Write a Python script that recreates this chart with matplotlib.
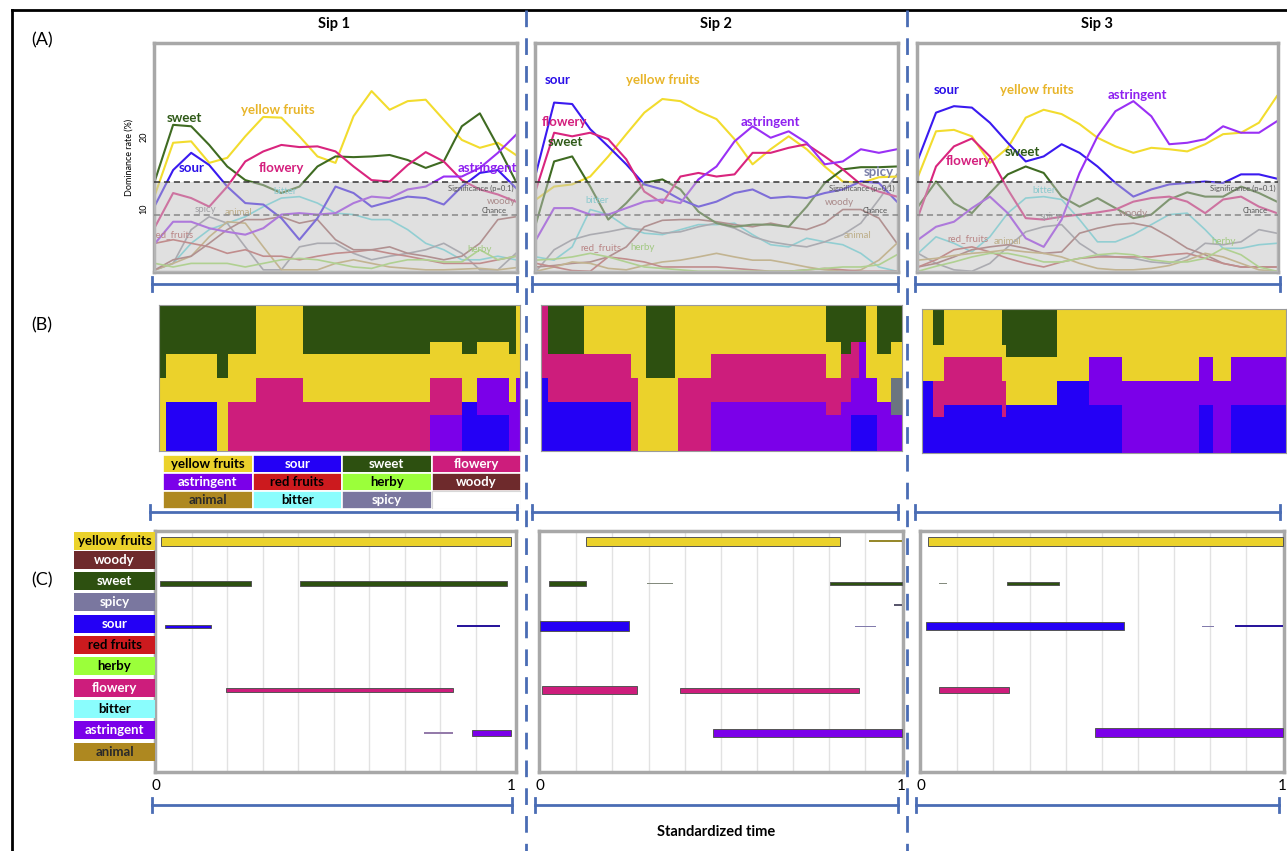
import matplotlib.pyplot as plt
from matplotlib.patches import Rectangle
from matplotlib.colors import to_rgb

plt.rcParams['font.family'] = ['Lato', 'DejaVu Sans']

W, H = 1287, 851

# ---------------- data ----------------
time_grid = [0.0, 0.05, 0.10, 0.15, 0.20, 0.25, 0.30, 0.35, 0.40, 0.45, 0.50,
             0.55, 0.60, 0.65, 0.70, 0.75, 0.80, 0.85, 0.90, 0.95, 1.0]

significance = 13.7
chance = 9.1

main_attrs = ["yellow fruits", "sweet", "sour", "flowery", "astringent"]

sip1_curves = {
    "bitter": [1.5, 2.4, 5.2, 7.1, 8.0, 8.9, 10.3, 11.5, 11.7, 10.8, 9.4, 9.2, 8.5, 8.5, 7.1, 5.2, 4.3, 2.9, 2.9, 3.4, 2.9],
    "spicy": [1.5, 2.4, 7.1, 8.9, 8.0, 4.7, 1.5, 1.5, 4.7, 5.2, 5.2, 3.8, 2.9, 3.4, 3.8, 4.3, 5.2, 3.8, 1.5, 1.5, 3.8],
    "animal": [1.5, 2.4, 3.4, 6.1, 8.2, 8.0, 4.7, 1.5, 1.5, 1.5, 2.4, 2.9, 2.4, 1.9, 1.7, 1.5, 1.5, 1.6, 1.7, 1.5, 1.8],
    "red fruits": [5.2, 5.7, 5.2, 4.7, 3.8, 4.3, 3.4, 3.4, 2.9, 3.4, 3.8, 4.0, 4.3, 3.8, 3.4, 2.9, 2.4, 2.4, 2.4, 2.9, 3.4],
    "woody": [1.5, 2.9, 3.4, 5.2, 7.1, 8.5, 8.5, 8.9, 8.0, 8.5, 5.7, 4.3, 4.3, 4.7, 3.8, 3.4, 2.9, 3.4, 5.2, 8.5, 8.9],
    "herby": [2.4, 1.9, 2.4, 2.4, 2.4, 1.9, 2.4, 2.9, 3.1, 2.9, 2.4, 1.9, 1.7, 2.4, 2.9, 2.9, 2.6, 2.6, 4.3, 2.9, 3.4],
    "yellow fruits": [12.0, 19.2, 19.4, 16.4, 17.1, 20.1, 22.8, 22.7, 20.1, 17.3, 16.4, 22.9, 26.4, 23.8, 25.0, 25.2, 22.4, 19.6, 18.5, 19.2, 17.5],
    "sweet": [14.0, 21.7, 21.5, 18.9, 15.9, 14.0, 13.3, 12.2, 13.1, 15.9, 17.3, 17.2, 17.3, 17.5, 16.8, 15.7, 16.6, 21.5, 23.3, 18.7, 13.8],
    "sour": [10.5, 15.4, 17.8, 16.1, 13.1, 10.8, 10.6, 8.7, 5.7, 8.7, 13.1, 12.2, 10.3, 11.0, 11.7, 11.5, 10.6, 13.1, 15.0, 15.4, 12.9],
    "flowery": [7.5, 12.2, 11.5, 10.3, 13.1, 16.6, 18.0, 18.9, 18.6, 18.7, 18.0, 15.9, 14.0, 13.8, 16.1, 17.9, 16.6, 14.0, 12.7, 12.0, 11.0],
    "astringent": [5.2, 8.2, 8.2, 7.3, 6.8, 6.4, 7.3, 9.2, 9.4, 9.2, 9.4, 10.8, 11.7, 11.5, 12.7, 13.1, 14.5, 14.5, 15.7, 17.8, 20.3],
}

sip2_curves = {
    "bitter": [3.3, 2.85, 4.7, 9.9, 9.2, 7.5, 6.6, 6.4, 7.1, 7.8, 7.8, 8.0, 6.4, 5.0, 4.7, 5.9, 5.4, 5.0, 3.8, 1.9, 1.3],
    "spicy": [1.3, 4.3, 5.7, 6.4, 6.8, 7.3, 7.1, 6.6, 6.8, 7.5, 8.0, 7.3, 6.1, 5.4, 5.0, 4.7, 5.4, 6.4, 8.0, 11.3, 14.8],
    "woody": [1.9, 2.1, 2.4, 2.6, 3.3, 4.7, 7.5, 8.4, 8.5, 8.5, 8.2, 7.8, 7.5, 8.0, 7.5, 7.1, 8.0, 9.9, 9.9, 8.7, 5.2],
    "animal": [1.3, 1.9, 2.6, 2.4, 1.7, 1.5, 2.1, 2.6, 2.85, 3.3, 3.8, 3.3, 2.85, 2.85, 2.4, 1.9, 1.5, 1.3, 1.5, 2.85, 5.2],
    "red fruits": [2.4, 1.9, 1.4, 1.3, 3.3, 3.0, 2.6, 1.9, 1.9, 1.9, 1.9, 1.7, 1.5, 1.3, 1.3, 1.5, 1.7, 1.5, 1.3, 1.3, 1.3],
    "herby": [2.85, 3.0, 3.3, 3.8, 3.3, 2.6, 1.9, 1.7, 1.5, 1.3, 1.3, 1.3, 1.3, 1.3, 1.3, 1.5, 1.7, 1.9, 1.9, 2.2, 3.6],
    "yellow fruits": [11.3, 13.1, 13.4, 14.5, 17.3, 20.4, 23.4, 25.3, 25.0, 23.6, 22.5, 19.7, 16.2, 18.3, 20.1, 18.3, 15.9, 13.8, 13.6, 14.4, 14.5],
    "sweet": [8.0, 16.6, 17.3, 13.1, 8.5, 10.8, 13.6, 14.1, 12.7, 9.6, 8.0, 7.5, 7.8, 7.8, 7.5, 10.3, 13.6, 15.5, 15.8, 15.8, 15.9],
    "sour": [15.0, 24.8, 24.6, 21.1, 18.7, 16.2, 13.4, 12.7, 11.3, 10.3, 11.0, 12.2, 12.7, 11.5, 11.7, 11.5, 12.2, 12.7, 13.8, 13.6, 11.0],
    "flowery": [12.7, 20.6, 20.1, 20.6, 19.7, 16.9, 12.4, 10.8, 14.5, 15.0, 14.5, 14.8, 17.8, 17.8, 18.5, 19.0, 17.3, 15.5, 13.4, 12.4, 11.7],
    "astringent": [5.7, 10.1, 10.1, 9.2, 9.2, 10.1, 11.0, 11.3, 10.8, 14.1, 15.9, 19.4, 21.5, 19.9, 20.8, 19.2, 16.2, 16.6, 18.3, 17.8, 18.3],
}

sip3_curves = {
    "bitter": [3.8, 6.1, 5.2, 4.0, 6.1, 9.4, 11.5, 11.7, 11.3, 8.5, 5.4, 5.4, 6.4, 7.8, 9.2, 9.4, 7.1, 4.5, 4.5, 5.0, 5.2],
    "spicy": [3.8, 2.4, 1.5, 1.3, 2.4, 4.7, 6.8, 7.5, 7.8, 5.2, 3.6, 3.3, 3.1, 2.6, 2.4, 3.3, 5.2, 5.0, 5.4, 7.1, 6.6],
    "woody": [1.9, 2.4, 3.3, 4.3, 4.7, 5.0, 4.5, 3.8, 4.0, 6.6, 7.3, 7.8, 8.0, 7.5, 6.1, 4.5, 3.6, 2.4, 1.9, 1.9, 1.9],
    "red fruits": [1.9, 2.9, 4.3, 4.7, 4.0, 3.1, 2.4, 1.9, 2.6, 3.1, 3.3, 3.3, 3.3, 3.3, 3.6, 3.8, 3.1, 2.4, 1.9, 1.9, 1.9],
    "animal": [2.85, 3.1, 3.5, 3.8, 4.0, 4.3, 4.0, 3.8, 3.3, 2.4, 1.7, 1.5, 1.5, 1.7, 2.1, 2.85, 3.8, 3.3, 2.4, 1.5, 1.3],
    "herby": [1.3, 2.0, 2.6, 3.3, 3.8, 3.8, 3.3, 2.6, 2.6, 3.1, 3.6, 3.8, 3.6, 2.9, 2.6, 2.6, 3.1, 4.5, 3.6, 1.9, 1.3],
    "yellow fruits": [14.5, 20.8, 21.0, 20.1, 16.4, 18.5, 22.7, 23.8, 23.2, 21.8, 19.9, 18.7, 17.8, 18.5, 18.3, 18.0, 19.0, 20.4, 20.6, 22.0, 25.7],
    "sweet": [10.3, 13.8, 10.8, 9.4, 12.2, 14.8, 15.9, 15.0, 11.7, 10.3, 11.5, 10.1, 8.7, 9.2, 11.3, 12.3, 11.7, 11.7, 13.1, 12.2, 11.0],
    "sour": [16.9, 23.4, 24.3, 24.1, 22.0, 19.2, 16.6, 17.3, 19.0, 17.8, 15.9, 13.6, 11.7, 12.7, 13.4, 13.6, 13.8, 13.6, 14.8, 14.8, 14.2],
    "flowery": [8.9, 15.9, 18.7, 19.8, 17.3, 12.7, 8.7, 8.5, 8.9, 9.2, 9.5, 9.9, 11.0, 11.5, 11.7, 11.0, 9.4, 11.3, 11.7, 10.3, 9.4],
    "astringent": [5.7, 7.5, 8.2, 10.1, 11.7, 9.4, 5.9, 4.7, 8.5, 15.0, 20.1, 23.6, 25.0, 22.9, 19.0, 19.2, 19.7, 21.5, 20.6, 20.6, 22.2],
}

# curve labels: (text, t, value)
sip1_labels = [("sweet", 0.08, 22.7), ("yellow fruits", 0.34, 23.8), ("sour", 0.10, 15.7),
               ("flowery", 0.35, 15.7), ("astringent", 0.92, 15.7)]
sip2_labels = [("sour", 0.06, 27.9), ("yellow fruits", 0.35, 27.9), ("flowery", 0.08, 22.1),
               ("sweet", 0.08, 19.3), ("astringent", 0.65, 22.1), ("spicy", 0.95, 15.1)]
sip3_labels = [("sour", 0.08, 26.5), ("yellow fruits", 0.33, 26.5), ("astringent", 0.61, 25.9),
               ("flowery", 0.14, 16.7), ("sweet", 0.29, 17.9)]
sip1_faint = [("spicy", 0.14, 9.9), ("animal", 0.23, 9.5), ("red_fruits", 0.05, 6.4),
              ("bitter", 0.36, 12.4), ("herby", 0.90, 4.3), ("woody", 0.96, 11.0)]
sip2_faint = [("bitter", 0.17, 11.1), ("herby", 0.295, 4.6), ("red_fruits", 0.18, 4.6),
              ("woody", 0.84, 10.9), ("animal", 0.89, 6.3)]
sip3_faint = [("bitter", 0.35, 12.6), ("spicy", 0.37, 9.0), ("woody", 0.60, 9.3),
              ("red_fruits", 0.14, 5.9), ("animal", 0.25, 5.5), ("herby", 0.85, 5.5)]

# ---- (B) stacked dominance (12 units per time slice), bottom -> top ----
sip1_breaks = [0, 0.02, 0.16, 0.19, 0.27, 0.40, 0.75, 0.84, 0.88, 0.97, 0.99, 1.0]
sip1_stacks = [
    [("yellow fruits", 6), ("sweet", 6)],
    [("sour", 4), ("yellow fruits", 4), ("sweet", 4)],
    [("yellow fruits", 6), ("sweet", 6)],
    [("flowery", 4), ("yellow fruits", 4), ("sweet", 4)],
    [("flowery", 6), ("yellow fruits", 6)],
    [("flowery", 4), ("yellow fruits", 4), ("sweet", 4)],
    [("astringent", 3), ("flowery", 3), ("yellow fruits", 3), ("sweet", 3)],
    [("sour", 4), ("yellow fruits", 4), ("sweet", 4)],
    [("sour", 3), ("astringent", 3), ("yellow fruits", 3), ("sweet", 3)],
    [("astringent", 4), ("yellow fruits", 4), ("sweet", 4)],
    [("astringent", 6), ("yellow fruits", 6)],
]
sip2_breaks = [0, 0.02, 0.12, 0.25, 0.27, 0.29, 0.37, 0.38, 0.47, 0.79, 0.83, 0.86, 0.88, 0.90, 0.93, 0.97, 1.0]
sip2_stacks = [
    [("sour", 6), ("flowery", 6)],
    [("sour", 4), ("flowery", 4), ("sweet", 4)],
    [("sour", 4), ("flowery", 4), ("yellow fruits", 4)],
    [("flowery", 6), ("yellow fruits", 6)],
    [("yellow fruits", 12)],
    [("yellow fruits", 6), ("sweet", 6)],
    [("yellow fruits", 12)],
    [("flowery", 6), ("yellow fruits", 6)],
    [("astringent", 4), ("flowery", 4), ("yellow fruits", 4)],
    [("astringent", 3), ("flowery", 3), ("yellow fruits", 3), ("sweet", 3)],
    [("astringent", 4), ("flowery", 4), ("sweet", 4)],
    [("sour", 3), ("astringent", 3), ("flowery", 3), ("sweet", 3)],
    [("sour", 3), ("astringent", 6), ("sweet", 3)],
    [("sour", 3), ("astringent", 3), ("yellow fruits", 6)],
    [("astringent", 4), ("yellow fruits", 4), ("sweet", 4)],
    [("astringent", 3), ("spicy", 3), ("yellow fruits", 3), ("sweet", 3)],
]
sip3_breaks = [0, 0.03, 0.06, 0.22, 0.23, 0.37, 0.46, 0.55, 0.76, 0.80, 0.85, 1.0]
sip3_stacks = [
    [("sour", 6), ("yellow fruits", 6)],
    [("sour", 3), ("flowery", 3), ("yellow fruits", 3), ("sweet", 3)],
    [("sour", 4), ("flowery", 4), ("yellow fruits", 4)],
    [("sour", 3), ("flowery", 3), ("yellow fruits", 3), ("sweet", 3)],
    [("sour", 4), ("yellow fruits", 4), ("sweet", 4)],
    [("sour", 6), ("yellow fruits", 6)],
    [("sour", 4), ("astringent", 4), ("yellow fruits", 4)],
    [("astringent", 6), ("yellow fruits", 6)],
    [("sour", 4), ("astringent", 4), ("yellow fruits", 4)],
    [("astringent", 6), ("yellow fruits", 6)],
    [("sour", 4), ("astringent", 4), ("yellow fruits", 4)],
]

legend_grid = [["yellow fruits", "sour", "sweet", "flowery"],
               ["astringent", "red fruits", "herby", "woody"],
               ["animal", "bitter", "spicy", None]]

# ---- (C) dominance durations: (attribute, start, end, weight) ----
c_rows = ["yellow fruits", "woody", "sweet", "spicy", "sour", "red fruits",
          "herby", "flowery", "bitter", "astringent", "animal"]
sip1_bands = [("yellow fruits", 0.015, 1.0, 0.42), ("sweet", 0.01, 0.266, 0.24),
              ("sweet", 0.405, 0.988, 0.24), ("sour", 0.024, 0.156, 0.17),
              ("sour", 0.847, 0.969, 0.08), ("flowery", 0.196, 0.837, 0.20),
              ("astringent", 0.755, 0.837, 0.05), ("astringent", 0.888, 1.0, 0.30)]
sip2_bands = [("yellow fruits", 0.127, 0.831, 0.42), ("yellow fruits", 0.911, 1.0, 0.07),
              ("sweet", 0.026, 0.127, 0.22), ("sweet", 0.297, 0.367, 0.05),
              ("sweet", 0.801, 1.0, 0.16), ("spicy", 0.98, 1.0, 0.10),
              ("sour", 0.0, 0.247, 0.47), ("sour", 0.87, 0.93, 0.05),
              ("flowery", 0.006, 0.267, 0.36), ("flowery", 0.388, 0.883, 0.24),
              ("astringent", 0.478, 1.0, 0.36)]
sip3_bands = [("yellow fruits", 0.02, 1.0, 0.42), ("sweet", 0.05, 0.071, 0.05),
              ("sweet", 0.239, 0.381, 0.12), ("sour", 0.013, 0.561, 0.38),
              ("sour", 0.778, 0.81, 0.05), ("sour", 0.869, 1.0, 0.08),
              ("flowery", 0.05, 0.242, 0.28), ("astringent", 0.48, 1.0, 0.42)]

# ---------------- styles ----------------
palette = {
    "yellow fruits": "#EBD22B", "sour": "#2400F5", "sweet": "#2D5010",
    "flowery": "#CD1D7C", "astringent": "#7B00E9", "red fruits": "#CC1A1E",
    "herby": "#9BFF3A", "woody": "#6E2A2C", "animal": "#AE8820",
    "bitter": "#8AFDFD", "spicy": "#7A779F",
}
label_text_color = {
    "yellow fruits": "black", "sour": "white", "sweet": "white", "flowery": "white",
    "astringent": "white", "red fruits": "black", "herby": "black", "woody": "white",
    "animal": "#2a2a2a", "bitter": "black", "spicy": "white",
}
curve_color = {
    "yellow fruits": "#F2DC2E", "sweet": "#3F6B22", "sour": "#3A1AF0",
    "flowery": "#D9257E", "astringent": "#9A30F5", "bitter": "#62DCE4",
    "spicy": "#9494A0", "animal": "#C4A660", "red fruits": "#C05858",
    "woody": "#A06060", "herby": "#9EE060",
}
curve_label_color = {
    "yellow fruits": "#E8B52A", "sweet": "#2F5A18", "sour": "#2A0FE8",
    "flowery": "#D41F7D", "astringent": "#8E1FF0", "spicy": "#7A7FA8",
}
faint_label_color = {
    "spicy": "#808088", "animal": "#B89A50", "red_fruits": "#B04848",
    "bitter": "#50D0DA", "herby": "#80D040", "woody": "#905050",
}
BLUE = "#4A6CB4"
FRAME = "#A8A8A8"

fig = plt.figure(figsize=(W / 100, H / 100), dpi=100)


def px_axes(x0, y0, x1, y1):
    return fig.add_axes([x0 / W, 1 - y1 / H, (x1 - x0) / W, (y1 - y0) / H])


def mix(c1, c2, f):
    a, b = to_rgb(c1), to_rgb(c2)
    return tuple(a[i] * (1 - f) + b[i] * f for i in range(3))


# ---------------- (A) ----------------
def draw_curves(box, curves, labels, faint, sig_t, show_y):
    ax = px_axes(*box)
    for name, vals in curves.items():
        main = name in main_attrs
        ax.plot(time_grid, vals, color=curve_color[name], lw=1.5 if main else 1.2,
                zorder=2, solid_joinstyle="round")
    for txt, t, v in faint:
        ax.text(t, v, txt, color=faint_label_color[txt], fontsize=7, ha="center",
                va="center", zorder=2)
    ax.axhspan(0, significance, color="#C2C2C2", alpha=0.5, lw=0, zorder=3)
    ax.axhline(significance, color="#333333", lw=1.1, ls=(0, (4, 2.5)), zorder=4)
    ax.axhline(chance, color="#888888", lw=1.1, ls=(0, (4, 2.5)), zorder=4)
    ax.text(sig_t, significance - 0.4, "Significance (p=0.1)", fontsize=5.5,
            color="#555555", ha="right", va="top", zorder=4)
    ax.text(sig_t - 0.02, chance + 0.2, "Chance", fontsize=5.5,
            color="#555555", ha="right", va="bottom", zorder=4)
    for txt, t, v in labels:
        ax.text(t, v, txt, color=curve_label_color[txt], fontsize=9.5,
                fontweight="bold", ha="center", va="center", zorder=5)
    ax.set_xlim(-0.003, 1.003)
    ax.set_ylim(1.2, 33.1)
    ax.set_xticks([])
    if show_y:
        ax.set_yticks([10, 20])
        ax.set_yticklabels(["10", "20"], rotation=90, va="center", fontsize=6.5)
        ax.tick_params(axis="y", length=0, pad=4)
        ax.set_ylabel("Dominance rate (%)", fontsize=6.5, labelpad=4)
    else:
        ax.set_yticks([])
    for s in ax.spines.values():
        s.set_color(FRAME)
        s.set_linewidth(2.5)


draw_curves((154, 43, 517, 272), sip1_curves, sip1_labels, sip1_faint, 0.995, True)
draw_curves((535, 43, 898, 272), sip2_curves, sip2_labels, sip2_faint, 0.995, False)
draw_curves((917, 43, 1278, 272), sip3_curves, sip3_labels, sip3_faint, 0.995, False)


# ---------------- (B) ----------------
def draw_stack(box, breaks, stacks):
    ax = px_axes(*box)
    for i, stack in enumerate(stacks):
        bottom = 0
        for name, n in stack:
            ax.bar(breaks[i], n, width=breaks[i + 1] - breaks[i], bottom=bottom,
                   align="edge", color=palette[name] if name != "spicy" else "#6B7580",
                   linewidth=0)
            bottom += n
    ax.set_xlim(0, 1)
    ax.set_ylim(0, 12)
    ax.set_xticks([])
    ax.set_yticks([])
    for s in ax.spines.values():
        s.set_color("#9A9A9A")
        s.set_linewidth(0.8)


draw_stack((159, 305, 520, 451), sip1_breaks, sip1_stacks)
draw_stack((541, 305, 902, 451), sip2_breaks, sip2_stacks)
draw_stack((922, 309, 1286, 453), sip3_breaks, sip3_stacks)

lg = px_axes(163, 455, 521, 509)
for r, row in enumerate(legend_grid):
    for c, name in enumerate(row):
        if name is None:
            lg.add_patch(Rectangle((c, r), 1, 1, facecolor="white", edgecolor="#D8D8D8", lw=0.8))
            continue
        lg.add_patch(Rectangle((c, r), 1, 1, facecolor=palette[name], edgecolor="white", lw=1.2))
        lg.text(c + 0.5, r + 0.52, name, ha="center", va="center", fontsize=9.5,
                fontweight="bold", color=label_text_color[name])
lg.set_xlim(0, 4)
lg.set_ylim(3, 0)
lg.axis("off")


# ---------------- (C) ----------------
C_YLIM = (10.83, -0.47)


def draw_bands(box, bands, xmax):
    ax = px_axes(*box)
    for name, start, end, w in bands:
        row = c_rows.index(name)
        if w <= 0.05:
            col = mix(palette[name], "#9A9A9A", 0.8)
            ec = "none"
        elif w <= 0.1:
            col = mix(palette[name], "#303030", 0.45)
            ec = "none"
        else:
            col = palette[name]
            ec = "#555555"
        ax.barh(row, end - start, left=start, height=w, color=col, edgecolor=ec,
                linewidth=0.7, zorder=3)
    ax.set_xlim(-0.003, xmax)
    ax.set_ylim(*C_YLIM)
    ax.set_yticks([])
    ax.set_xticks([0, 1])
    ax.set_xticklabels(["0", "1"], fontsize=11)
    ax.set_xticks([0.1, 0.2, 0.3, 0.4, 0.5, 0.6, 0.7, 0.8, 0.9], minor=True)
    ax.grid(which="minor", axis="x", color="#E2E2E2", lw=1, zorder=0)
    ax.tick_params(which="both", length=0, pad=5)
    for s in ax.spines.values():
        s.set_color(FRAME)
        s.set_linewidth(2.5)


draw_bands((155, 531, 516, 772), sip1_bands, 1.013)
draw_bands((539, 531, 903, 772), sip2_bands, 1.004)
draw_bands((920, 531, 1284, 772), sip3_bands, 1.004)

lab = px_axes(74, 531, 155, 772)
for i, name in enumerate(c_rows):
    off = 0 if i == 0 else -0.12
    lab.add_patch(Rectangle((0, i - 0.42 + off), 1, 0.84, facecolor=palette[name],
                            edgecolor="none"))
    lab.text(0.5, i + off, name, ha="center", va="center", fontsize=9.5,
             fontweight="bold", color=label_text_color[name])
lab.set_xlim(0, 1)
lab.set_ylim(*C_YLIM)
lab.axis("off")

# ---------------- overlay: frame, separators, brackets, titles ----------------
ov = fig.add_axes([0, 0, 1, 1], zorder=10)
ov.patch.set_alpha(0)
ov.set_xlim(0, W)
ov.set_ylim(H, 0)
ov.axis("off")

ov.plot([12, 12], [10, H], color="black", lw=2)
ov.plot([12, W], [10, 10], color="black", lw=2)
for xs in (526, 907):
    ov.plot([xs, xs], [10, H], color=BLUE, lw=2, dashes=(6, 4))


def bracket(x0, x1, y):
    ov.plot([x0, x1], [y, y], color=BLUE, lw=2)
    ov.plot([x0, x0], [y - 7, y + 7], color=BLUE, lw=2)
    ov.plot([x1, x1], [y - 7, y + 7], color=BLUE, lw=2)


for x0, x1 in ((152, 517), (532, 898), (915, 1280)):
    bracket(x0, x1, 284)
for x0, x1 in ((150, 517), (532, 898), (915, 1280)):
    bracket(x0, x1, 512)
for x0, x1 in ((152, 512), (535, 898), (916, 1279)):
    bracket(x0, x1, 805)

for txt, x in (("Sip 1", 334), ("Sip 2", 716), ("Sip 3", 1097)):
    ov.text(x, 24, txt, ha="center", va="center", fontsize=10.5, fontweight="bold")
for txt, y in (("(A)", 40), ("(B)", 325), ("(C)", 580)):
    ov.text(42, y, txt, ha="center", va="center", fontsize=13)
ov.text(716, 832, "Standardized time", ha="center", va="center", fontsize=10.5,
        fontweight="bold")

fig.savefig("out.png", dpi=100)
